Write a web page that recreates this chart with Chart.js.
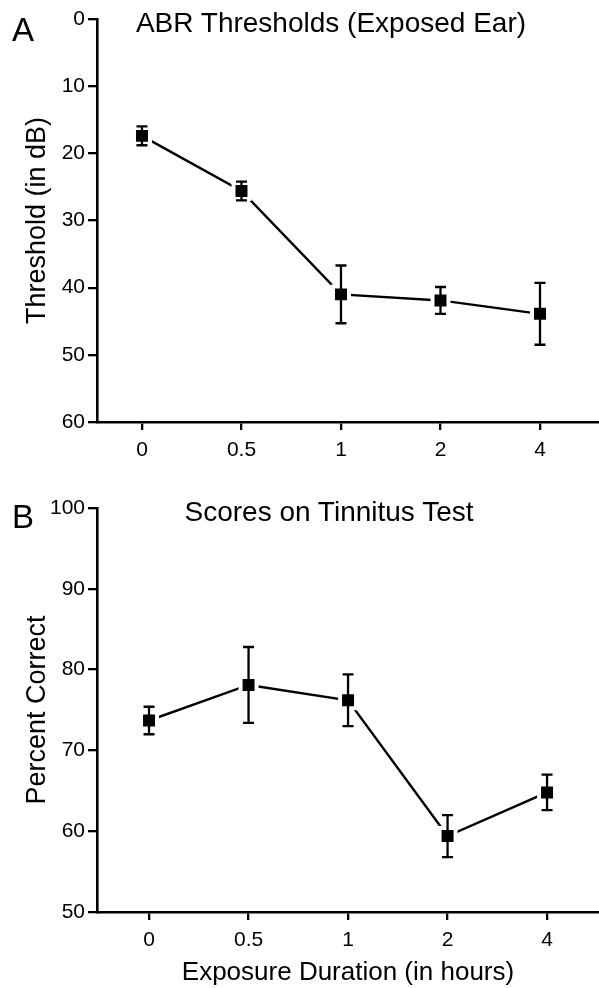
<!DOCTYPE html>
<html>
<head>
<meta charset="utf-8">
<script src="https://cdn.jsdelivr.net/npm/chart.js@4"></script>
<style>
  body { margin: 0; background: #fff; }
  #wrap { position: relative; width: 599px; height: 988px; font-family: 'Liberation Sans', Arial, sans-serif; color: #000; }
  canvas { position: absolute; left: 0; }
  .lbl { position: absolute; white-space: nowrap; line-height: 1; transform: translate(-50%, -50%); }
</style>
</head>
<body>
<div id="wrap">
  <canvas id="abrChart" width="599" height="480" style="top:0"></canvas>
  <canvas id="tinChart" width="599" height="508" style="top:480px"></canvas>
  <div class="lbl" style="left:23px; top:29px; font-size:33px">A</div>
  <div class="lbl" style="left:331px; top:23px; font-size:28px">ABR Thresholds (Exposed Ear)</div>
  <div class="lbl" style="left:23px; top:516px; font-size:33px">B</div>
  <div class="lbl" style="left:329px; top:512px; font-size:28px">Scores on Tinnitus Test</div>
</div>
<script>
// exposure durations (hours), shown as evenly spaced categories
const durations = ['0', '0.5', '1', '2', '4'];

// panel A: ABR threshold, mean and error
const abrMean = [17.4, 25.6, 41.0, 41.9, 43.9];
const abrErr = [1.4, 1.4, 4.3, 2.0, 4.6];

// panel B: percent correct on tinnitus test
const tinMean = [73.7, 78.1, 76.2, 59.4, 64.8];
const tinErr = [1.7, 4.7, 3.2, 2.6, 2.2];

const FONT = "'Liberation Sans', Arial, sans-serif";

// draws the vertical error bars with caps on top of the points
const errorBars = {
  id: 'errorBars',
  afterDatasetsDraw(chart, args, opts) {
    const { ctx, scales: { x, y } } = chart;
    ctx.save();
    ctx.strokeStyle = '#000';
    ctx.lineWidth = 2.3;
    opts.mean.forEach((m, i) => {
      const px = x.getPixelForValue(i);
      const top = y.getPixelForValue(m - opts.err[i]);
      const bot = y.getPixelForValue(m + opts.err[i]);
      ctx.beginPath();
      ctx.moveTo(px, top);
      ctx.lineTo(px, bot);
      ctx.moveTo(px - 5.5, top);
      ctx.lineTo(px + 5.5, top);
      ctx.moveTo(px - 5.5, bot);
      ctx.lineTo(px + 5.5, bot);
      ctx.stroke();
    });
    ctx.restore();
  }
};

function makeChart(id, mean, err, cfg) {
  const ctx = document.getElementById(id).getContext('2d');
  return new Chart(ctx, {
    type: 'line',
    data: {
      datasets: [{
        data: mean.map((v, i) => ({ x: i, y: v })),
        borderColor: '#000',
        borderWidth: 2.4,
        tension: 0,
        pointStyle: 'rect',
        pointRadius: 11.3,
        pointBackgroundColor: '#000',
        pointBorderColor: '#fff',
        pointBorderWidth: 4
      }]
    },
    options: {
      responsive: false,
      animation: false,
      events: [],
      layout: { autoPadding: false, padding: { top: cfg.padTop, left: 0, right: 0, bottom: 0 } },
      plugins: {
        legend: { display: false },
        tooltip: { enabled: false },
        errorBars: { mean, err }
      },
      scales: {
        x: {
          type: 'linear',
          min: cfg.xMin,
          max: cfg.xMin + 5.045,
          afterBuildTicks: axis => { axis.ticks = durations.map((_, i) => ({ value: i })); },
          afterFit: axis => { axis.height = cfg.xHeight; },
          ticks: {
            color: '#000',
            padding: 8,
            font: { family: FONT, size: 21 },
            callback: v => durations[v]
          },
          grid: { display: true, drawOnChartArea: false, drawTicks: true, tickLength: 8, lineWidth: 2.3, color: '#000' },
          border: { display: true, color: '#000', width: 2.6 },
          title: {
            display: !!cfg.xTitle,
            text: cfg.xTitle,
            color: '#000',
            font: { family: FONT, size: 26 },
            padding: { top: 0, bottom: 0 }
          }
        },
        y: {
          min: cfg.yMin,
          max: cfg.yMax,
          reverse: cfg.reverse,
          afterFit: axis => { axis.width = 97; },
          ticks: {
            stepSize: 10,
            color: '#000',
            padding: 3,
            font: { family: FONT, size: 21 }
          },
          grid: { display: true, drawOnChartArea: false, drawTicks: true, tickLength: 9, lineWidth: 2.3, color: '#000' },
          border: { display: true, color: '#000', width: 2.6 },
          title: {
            display: true,
            text: cfg.yTitle,
            color: '#000',
            font: { family: FONT, size: 27 },
            padding: { top: 21, bottom: 0 }
          }
        }
      }
    },
    plugins: [errorBars]
  });
}

makeChart('abrChart', abrMean, abrErr, {
  padTop: 19, xHeight: 58, xMin: -0.452,
  yMin: 0, yMax: 60, reverse: true,
  yTitle: 'Threshold (in dB)', xTitle: ''
});

makeChart('tinChart', tinMean, tinErr, {
  padTop: 28, xHeight: 76, xMin: -0.523,
  yMin: 50, yMax: 100, reverse: false,
  yTitle: 'Percent Correct', xTitle: 'Exposure Duration (in hours)'
});
</script>
</body>
</html>
